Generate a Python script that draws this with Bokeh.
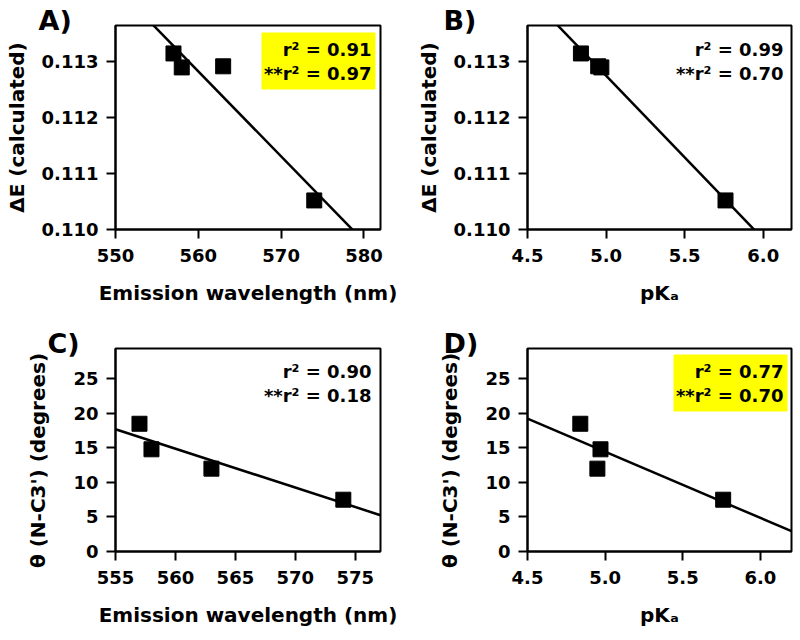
import numpy as np
from bokeh.plotting import figure
from bokeh.layouts import gridplot
from bokeh.models import Label, BoxAnnotation, Range1d, FixedTicker, NumeralTickFormatter
from bokeh.embed import file_html
from bokeh.resources import INLINE

# ---- data ----
emission = [557, 558, 563, 574]          # emission wavelength (nm)
pka = [4.84, 4.97, 4.95, 5.76]           # pKa
delta_e = [0.11315, 0.11290, 0.11292, 0.11052]  # Delta E (calculated)
theta = [18.5, 14.8, 12.0, 7.5]          # theta (N-C3') degrees

r2_a = ["r² = 0.91", "**r² = 0.97"]
r2_b = ["r² = 0.99", "**r² = 0.70"]
r2_c = ["r² = 0.90", "**r² = 0.18"]
r2_d = ["r² = 0.77", "**r² = 0.70"]

ticks_emission_a = [550, 560, 570, 580]
ticks_emission_c = [555, 560, 565, 570, 575]
ticks_pka = [4.5, 5.0, 5.5, 6.0]
ticks_de = [0.110, 0.111, 0.112, 0.113]
ticks_theta = [0, 5, 10, 15, 20, 25]

FONT = "DejaVu Sans"
NBSP = "\u00a0"


def panel(x, y, xr, yr, xticks, yticks, xfmt, yfmt, xlabel, ylabel, ylab_standoff,
          letter, letter_x, r2, highlight, width, height, bl, br, bt, bb):
    p = figure(width=width, height=height, x_range=Range1d(*xr), y_range=Range1d(*yr),
               output_backend="svg", toolbar_location=None,
               min_border_left=bl, min_border_right=br, min_border_top=bt, min_border_bottom=bb)
    p.grid.visible = False
    p.outline_line_color = "black"
    p.outline_line_width = 2
    p.outline_line_alpha = 1
    for ax in (p.xaxis[0], p.yaxis[0]):
        ax.axis_line_width = 2
        ax.major_tick_line_width = 2
        ax.major_tick_out = 9
        ax.major_tick_in = 0
        ax.minor_tick_out = 0
        ax.minor_tick_in = 0
        ax.major_label_standoff = 8
        ax.major_label_text_font = FONT
        ax.major_label_text_font_style = "bold"
        ax.major_label_text_font_size = "18px"
        ax.major_label_text_color = "black"
        ax.axis_label_text_font = FONT
        ax.axis_label_text_font_style = "bold"
        ax.axis_label_text_font_size = "20px"
        ax.axis_label_text_color = "black"
    p.xaxis.major_label_standoff = 10
    p.xaxis.axis_label_standoff = 16
    p.yaxis.axis_label_standoff = ylab_standoff
    p.xaxis.ticker = FixedTicker(ticks=xticks)
    p.yaxis.ticker = FixedTicker(ticks=yticks)
    p.xaxis.formatter = NumeralTickFormatter(format=xfmt)
    p.yaxis.formatter = NumeralTickFormatter(format=yfmt)
    p.xaxis.axis_label = xlabel
    p.yaxis.axis_label = ylabel

    p.title.text = letter
    p.title.align = "left"
    p.title.offset = letter_x
    p.title.standoff = -20
    p.title.text_font = FONT
    p.title.text_font_style = "bold"
    p.title.text_font_size = "27px"
    p.title.text_color = "black"

    if highlight:
        p.add_layout(BoxAnnotation(left=146, right=260, top=197, bottom=140,
                                   left_units="screen", right_units="screen",
                                   top_units="screen", bottom_units="screen",
                                   fill_color="#ffff00", fill_alpha=1, line_alpha=0,
                                   level="underlay"))

    k, b = np.polyfit(x, y, 1)
    xs = np.array(xr)
    p.line(xs, k * xs + b, line_color="black", line_width=2.5)
    p.scatter(x, y, marker="square", size=15, color="black")

    for i, t in enumerate(r2):
        p.add_layout(Label(x=256, y=180 - 24 * i, x_units="screen", y_units="screen",
                           text=t, text_align="right", text_baseline="middle",
                           text_font=FONT, text_font_style="bold", text_font_size="18px",
                           text_color="black"))
    return p


theta_label = "θ (N-C3') (degrees)" + NBSP * 3

pa = panel(emission, delta_e, (550, 582), (0.110, 0.11365), ticks_emission_a, ticks_de,
           "0", "0.000", "Emission wavelength (nm)", "ΔE (calculated)", 10,
           "A)", -77, r2_a, True, 400, 320, 115, 20, 25, 91)
pb = panel(pka, delta_e, (4.5, 6.18), (0.110, 0.11365), ticks_pka, ticks_de,
           "0.0", "0.000", "pKₐ", "ΔE (calculated)", 10,
           "B)", -84, r2_b, False, 396, 320, 127, 5, 25, 91)
pc = panel(emission, theta, (555, 577.1), (0, 29.4), ticks_emission_c, ticks_theta,
           "0", "0", "Emission wavelength (nm)", theta_label, 20,
           "C)", -68, r2_c, False, 400, 318, 115, 20, 28, 87)
pd = panel(pka, theta, (4.5, 6.2), (0, 29.4), ticks_pka, ticks_theta,
           "0.0", "0", "pKₐ", theta_label, 20,
           "D)", -84, r2_d, True, 396, 318, 127, 5, 28, 87)

grid = gridplot([[pa, pb], [pc, pd]], toolbar_location=None)
open("out.html", "w").write(file_html(grid, INLINE))
